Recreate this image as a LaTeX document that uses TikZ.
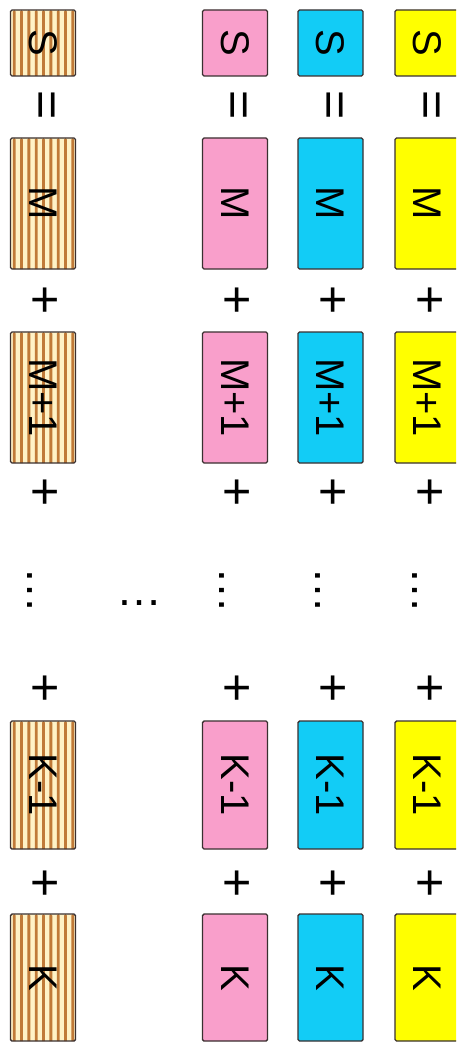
\documentclass[tikz,border=0pt]{standalone}
\usepackage{fontspec}
\setmainfont{Liberation Sans}
\definecolor{pinkfill}{HTML}{F99FCB}
\definecolor{cyanfill}{HTML}{12CCF6}
\definecolor{yellowfill}{HTML}{FFFF00}
\definecolor{creamfill}{HTML}{FFF2C6}
\definecolor{stripebrown}{HTML}{C07A38}
\definecolor{edgegray}{HTML}{3A3030}
\tikzset{
  cellbox/.style={draw=edgegray, line width=1.4pt, rounded corners=1.5pt, minimum width=65pt, inner sep=0pt},
  stripebox/.style={cellbox, fill=creamfill, path picture={
      \foreach \i in {0,...,8}{
        \fill[stripebrown] ([xshift=\i*7.33pt+2.3pt]path picture bounding box.north west) rectangle ++(2.8pt,-200pt);}
    }},
  pinkbox/.style={cellbox, fill=pinkfill},
  cyanbox/.style={cellbox, fill=cyanfill},
  yellowbox/.style={cellbox, fill=yellowfill},
  lbl/.style={rotate=-90, inner sep=0pt, font=\fontsize{40}{48}\selectfont},
  oper/.style={rotate=-90, inner sep=0pt, font=\fontsize{50}{60}\selectfont},
  dots/.style={inner sep=0pt, font=\fontsize{46}{54}\selectfont}
}
\begin{document}
\begin{tikzpicture}[x=1pt,y=-1pt]
\clip (0,0) rectangle (456,1043);
\fill[white] (0,0) rectangle (456,1043);
\foreach \c/\x/\st in {a/43/stripebox, b/235/pinkbox, c/330.5/cyanbox, d/427.5/yellowbox}{
  \foreach \r/\y/\h/\t in {s/43/66/S, m/203.5/131/M, mp/397.5/131/M+1, km/785/128/K-1, k/977.5/127/K}{
    \node[\st, minimum height=\h pt] (\c\r) at (\x,\y) {};
    \node[lbl] (\c\r t) at (\x,\y) {\t};
  }
  \node[oper] (\c eq) at (\x,105) {=};
  \node[oper] (\c pa) at (\x,300) {+};
  \node[oper] (\c pb) at (\x,492) {+};
  \node[oper] (\c pc) at (\x,688) {+};
  \node[oper] (\c pd) at (\x,883) {+};
  \node[dots, rotate=-90] (\c vd) at (\x-13,590.5) {…};
}
\node[dots] (hdots) at (139.5,603) {…};
\end{tikzpicture}
\end{document}
